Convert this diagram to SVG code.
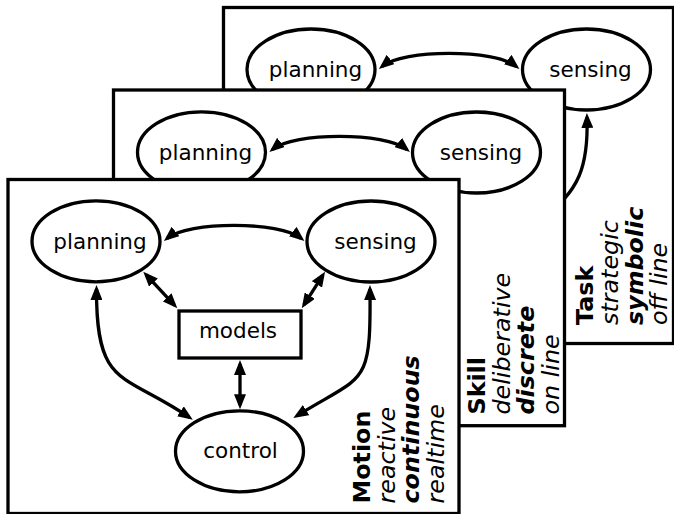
<svg xmlns="http://www.w3.org/2000/svg" width="674" height="514" viewBox="0 0 674 514">
<style>
.panel{fill:#fff;stroke:#000;stroke-width:3.3}
.node{fill:#fff;stroke:#000;stroke-width:3.3}
.conn{fill:none;stroke:#000;stroke-width:3.3;marker-start:url(#ah);marker-end:url(#ah)}
.t{font-family:"DejaVu Sans","Bitstream Vera Sans",sans-serif;font-size:21.5px;text-anchor:middle;fill:#000}
.lab{font-family:"DejaVu Sans","Bitstream Vera Sans",sans-serif;font-size:23.8px;fill:#000}
.b{font-weight:bold}
.i{font-style:italic}
</style>
<defs>
<marker id="ah" viewBox="0 0 15 12" refX="11" refY="6" markerWidth="15" markerHeight="12" markerUnits="userSpaceOnUse" orient="auto-start-reverse">
<path d="M0,0 L15,6 L0,12 z" fill="#000"/>
</marker>
</defs>

<g id="task-layer">
<rect id="task-panel" class="panel" x="223.5" y="7.5" width="450" height="336"/>
<g id="task-connectors">
<path class="conn" d="M382,66.5 C403,49 495,49 516.3,66.5"/>
<path class="conn" style="marker-end:none" d="M587,117 C588.5,165 580,192 540,220"/>
</g>
<g id="task-planning"><ellipse class="node" cx="311" cy="69.5" rx="64" ry="40.5"/><text class="t" x="315.5" y="76.7">planning</text></g>
<g id="task-sensing"><ellipse class="node" cx="586.5" cy="69.5" rx="64" ry="40.5"/><text class="t" x="590.5" y="76.7">sensing</text></g>
<g id="task-label">
<text class="lab b" transform="translate(593.3,325) rotate(-90)">Task</text>
<text class="lab i" transform="translate(618,325) rotate(-90)">strategic</text>
<text class="lab b i" transform="translate(642.7,325) rotate(-90)">symbolic</text>
<text class="lab i" transform="translate(667.4,325) rotate(-90)">off line</text>
</g>
</g>

<g id="skill-layer">
<rect id="skill-panel" class="panel" x="113.5" y="90" width="451" height="335.7"/>
<g id="skill-connectors">
<path class="conn" d="M272.5,149.5 C293.5,132 385.5,132 406.8,149.5"/>
</g>
<g id="skill-planning"><ellipse class="node" cx="201.5" cy="152.3" rx="64" ry="40.5"/><text class="t" x="205.5" y="159.7">planning</text></g>
<g id="skill-sensing"><ellipse class="node" cx="476.5" cy="152.5" rx="64" ry="40.5"/><text class="t" x="481" y="159.7">sensing</text></g>
<g id="skill-label">
<text class="lab b" transform="translate(485,414.5) rotate(-90)">Skill</text>
<text class="lab i" transform="translate(509.7,414.5) rotate(-90)">deliberative</text>
<text class="lab b i" transform="translate(534.4,414.5) rotate(-90)">discrete</text>
<text class="lab i" transform="translate(559,414.5) rotate(-90)">on line</text>
</g>
</g>

<g id="motion-layer">
<rect id="motion-panel" class="panel" x="8" y="179.5" width="451" height="334"/>
<g id="motion-connectors">
<path class="conn" d="M167,238.5 C188,221 280,221 301.3,238.5"/>
<path class="conn" d="M146,274.6 L174.6,305.4"/>
<path class="conn" d="M322.9,275.1 L303.9,304.9"/>
<path class="conn" d="M240,364 L240,405.3"/>
<path class="conn" d="M96.5,289 C96,389 123.5,372.3 189.5,417.5"/>
<path class="conn" d="M370,289 C371,389 364.7,373.5 296.7,415.9"/>
</g>
<g id="motion-planning"><ellipse class="node" cx="96" cy="241.3" rx="64" ry="40.5"/><text class="t" x="100" y="248.7">planning</text></g>
<g id="motion-sensing"><ellipse class="node" cx="371" cy="241.5" rx="64" ry="40.5"/><text class="t" x="375.5" y="248.7">sensing</text></g>
<g id="motion-models"><rect class="node" x="179" y="311" width="122" height="47"/><text class="t" x="238" y="338.3">models</text></g>
<g id="motion-control"><ellipse class="node" cx="239.5" cy="451.3" rx="64" ry="40.5"/><text class="t" x="240.5" y="458.3">control</text></g>
<g id="motion-label">
<text class="lab b" transform="translate(370,503.5) rotate(-90)">Motion</text>
<text class="lab i" transform="translate(394.7,503.5) rotate(-90)">reactive</text>
<text class="lab b i" transform="translate(419.4,503.5) rotate(-90)">continuous</text>
<text class="lab i" transform="translate(444.1,503.5) rotate(-90)">realtime</text>
</g>
</g>
</svg>
